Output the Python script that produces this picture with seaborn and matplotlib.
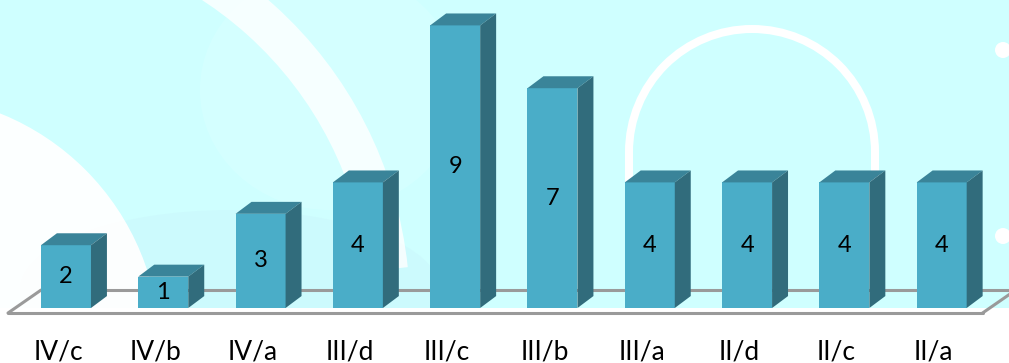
import numpy as np
import matplotlib
matplotlib.use("Agg")
import matplotlib.pyplot as plt
import matplotlib.transforms as mtransforms
import seaborn as sns
from matplotlib.patches import Polygon, Rectangle, Circle, Wedge, Ellipse

# datos
categorias = ["IV/c", "IV/b", "IV/a", "III/d", "III/c", "III/b", "III/a", "II/d", "II/c", "II/a"]
valores = [2, 1, 3, 4, 9, 7, 4, 4, 4, 4]

sns.set_theme(style="white")
plt.rcParams["font.family"] = ["Lato", "DejaVu Sans"]

frente = "#4AADC8"
arriba = "#3A8499"
lado = "#316C7C"
gris = "#9A9A9A"

W, H = 1009, 363
fig = plt.figure(figsize=(W / 100, H / 100), dpi=100)
fig.patch.set_facecolor("white")

# fondo decorativo (en pixeles)
bg = fig.add_axes([0, 0, 1, 1], zorder=0)
bg.set_xlim(0, W)
bg.set_ylim(H, 0)
bg.axis("off")
bg.add_patch(Rectangle((0, 0), W, 308, color="#CFFFFF", lw=0))
bg.add_patch(Ellipse((230, 290), 420, 160, color="#C8F2FA", lw=0, alpha=0.35))
bg.add_patch(Ellipse((330, 90), 260, 240, color="#DAFFFF", lw=0, alpha=0.5))
bg.add_patch(Wedge((0, 310), 410, 270, 354, width=40, color="white", alpha=0.8, lw=0))
bg.add_patch(Wedge((-95, 350), 255, 270, 360, color="white", alpha=0.95, lw=0))
bg.add_patch(Wedge((752, 152), 127, 180, 360, width=8, color="white", lw=0))
bg.add_patch(Rectangle((625, 152), 8, 40, color="white", lw=0))
bg.add_patch(Rectangle((871, 152), 8, 40, color="white", lw=0))
bg.add_patch(Circle((1003, 50), 8, color="white", lw=0))
bg.add_patch(Circle((1003, 236), 8, color="white", lw=0))
bg.add_patch(Rectangle((0, 308), W, H - 308, color="white", lw=0))

ax = fig.add_axes([0, 33 / H, 1, 1 - 33 / H], zorder=1)
ax.patch.set_alpha(0)

ancho = 0.514
dx, dy = 0.164, 0.38

sns.barplot(x=categorias, y=valores, color=frente, width=ancho, saturation=1,
            edgecolor="none", ax=ax, zorder=3)

# piso
piso_atras, piso_frente = 0.57, -0.16
ax.plot([-0.257, 9.9], [piso_atras, piso_atras], color=gris, lw=2.2, zorder=1)
ax.plot([-0.596, 9.42], [piso_frente, piso_frente], color=gris, lw=2.2, zorder=1)
ax.plot([-0.596, -0.257], [piso_frente, piso_atras], color=gris, lw=2.2, zorder=1)
ax.plot([9.42, 9.76], [piso_frente, piso_atras], color=gris, lw=2.2, zorder=1)

for p, v in zip(ax.patches, valores):
    x0 = p.get_x()
    w = p.get_width()
    h = p.get_height()
    ax.add_patch(Polygon([[x0, h], [x0 + w, h], [x0 + w + dx, h + dy], [x0 + dx, h + dy]],
                         closed=True, color=arriba, lw=0, zorder=3))
    ax.add_patch(Polygon([[x0 + w, 0], [x0 + w + dx, dy], [x0 + w + dx, h + dy], [x0 + w, h]],
                         closed=True, color=lado, lw=0, zorder=3))
    ax.text(x0 + w / 2, h / 2, str(v), ha="center", va="center", fontsize=17,
            color="black", zorder=4)

ax.set_xlim(-0.678, -0.678 + W / 97.3)
ax.set_ylim(-22 / 31.4, (330 - 22) / 31.4)
ax.set_yticks([])
ax.tick_params(axis="x", length=0, pad=7, labelsize=19, colors="black")
# etiquetas un poco a la izquierda, como en el original
desplazar = mtransforms.ScaledTranslation(-8 / 100, 0, fig.dpi_scale_trans)
for lbl in ax.get_xticklabels():
    lbl.set_transform(lbl.get_transform() + desplazar)
ax.set_xlabel("")
ax.set_ylabel("")
sns.despine(ax=ax, left=True, bottom=True)

fig.savefig("out.png", dpi=100, facecolor=fig.get_facecolor())
